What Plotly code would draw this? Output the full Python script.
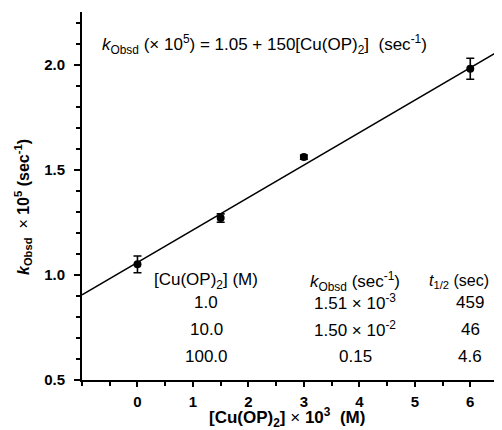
import plotly.graph_objects as go

# Data
conc = [0, 1.5, 3, 6]
k_obsd = [1.05, 1.27, 1.56, 1.98]
k_err = [0.04, 0.02, 0.01, 0.05]
fit_x = [-1.0, 6.55]
fit_y = [0.905, 2.07]

table_col1 = ["1.0", "10.0", "100.0"]
table_col2 = ["1.51 × 10<sup>-3</sup>", "1.50 × 10<sup>-2</sup>", "0.15"]
table_col3 = ["459", "46", "4.6"]

FONT = "Liberation Sans, Arial, sans-serif"
TXT = 17

# page body has an 8px margin: shrink the figure so the plot lands where the reference has it
OFF = 8
W, H = 502 - OFF, 430 - OFF
L, R, T, B = 82 - OFF, 4, 12 - OFF, 50
pw, ph = W - L - R, H - T - B


def px2paper(sx, sy):
    return (sx - OFF - L) / pw, (H - B - (sy - OFF)) / ph


fig = go.Figure()
fig.add_trace(go.Scatter(x=fit_x, y=fit_y, mode="lines", cliponaxis=False,
                         line=dict(color="black", width=1.6), showlegend=False))
fig.add_trace(go.Scatter(x=conc, y=k_obsd, mode="markers",
                         marker=dict(color="black", size=8),
                         error_y=dict(type="data", array=k_err, color="black",
                                      thickness=1.6, width=4),
                         showlegend=False))

ann = []
ann.append(dict(x=-0.68, y=2.095, xref="x", yref="y", xanchor="left", yanchor="middle",
                text="<i>k</i><sub>Obsd</sub> (× 10<sup>5</sup>) = 1.05 + 150[Cu(OP)<sub>2</sub>]  (sec<sup>-1</sup>)",
                showarrow=False, font=dict(size=TXT, color="black", family=FONT)))
hdr_y = 0.97
cols_x = [1.24, 3.93, 6.0]
headers = ["[Cu(OP)<sub>2</sub>] (M)", "<i>k</i><sub>Obsd</sub> (sec<sup>-1</sup>)", "<i>t</i><sub>1/2</sub> (sec)"]
hdr_x = [1.24, 3.93, 6.49]
hdr_anchor = ["center", "center", "right"]
hdr_shift = [0, 0, -6]
hdr_size = [TXT, TXT, 16]
for cx, h, anc, sh, fs in zip(hdr_x, headers, hdr_anchor, hdr_shift, hdr_size):
    ann.append(dict(x=cx, y=hdr_y, xref="x", yref="y", xanchor=anc, yanchor="middle", xshift=sh,
                    text=h, showarrow=False, font=dict(size=fs, color="black", family=FONT)))
row_y = [0.87, 0.742, 0.61]
for i, ry in enumerate(row_y):
    for cx, col in zip(cols_x, [table_col1, table_col2, table_col3]):
        ann.append(dict(x=cx, y=ry, xref="x", yref="y", xanchor="center", yanchor="middle",
                        text=col[i], showarrow=False, font=dict(size=TXT, color="black", family=FONT)))

# axis titles (positions in screen pixels)
xt = px2paper(287, 417)
ann.append(dict(x=xt[0], y=xt[1], xref="paper", yref="paper", showarrow=False,
                xanchor="center", yanchor="middle",
                text="<b>[Cu(OP)<sub>2</sub>]</b> × <b>10<sup>3</sup>  (M)</b>",
                font=dict(size=17, color="black", family=FONT)))
yt = px2paper(23, 207)
ann.append(dict(x=yt[0], y=yt[1], xref="paper", yref="paper", showarrow=False, textangle=-90,
                xanchor="center", yanchor="middle",
                text="<b><i>k</i><sub>Obsd</sub></b>  × <b>10<sup>5</sup> (sec<sup>-1</sup>)</b>",
                font=dict(size=16, color="black", family=FONT)))

fig.update_layout(
    width=W, height=H,
    margin=dict(l=L, r=R, t=T, b=B),
    plot_bgcolor="white", paper_bgcolor="white",
    font=dict(family=FONT, color="black"),
    annotations=ann,
    xaxis=dict(range=[-1.0, 6.5], showgrid=False, zeroline=False, automargin=False,
               showline=True, linecolor="black", linewidth=2,
               ticks="outside", ticklen=5, tickwidth=1.5, tickcolor="black",
               tickvals=[0, 1, 2, 3, 4, 5, 6], ticklabelstandoff=2,
               tickfont=dict(size=15, family=FONT, color="black", weight="bold"),
               minor=dict(dtick=0.5, tick0=0, ticks="outside", ticklen=4, tickwidth=1.5, tickcolor="black")),
    yaxis=dict(range=[0.5, 2.25], showgrid=False, zeroline=False, automargin=False,
               showline=True, linecolor="black", linewidth=2,
               ticks="outside", ticklen=6, tickwidth=1.5, tickcolor="black",
               tickvals=[0.5, 1.0, 1.5, 2.0], ticktext=["0.5", "1.0", "1.5", "2.0"],
               ticklabelstandoff=6,
               tickfont=dict(size=15, family=FONT, color="black", weight="bold"),
               minor=dict(dtick=0.1, tick0=0.5, ticks="outside", ticklen=4, tickwidth=1.5, tickcolor="black")),
)

fig.write_html("out.html",
               post_script="document.documentElement.style.overflow='hidden';"
                           "document.body.style.overflow='hidden';")
